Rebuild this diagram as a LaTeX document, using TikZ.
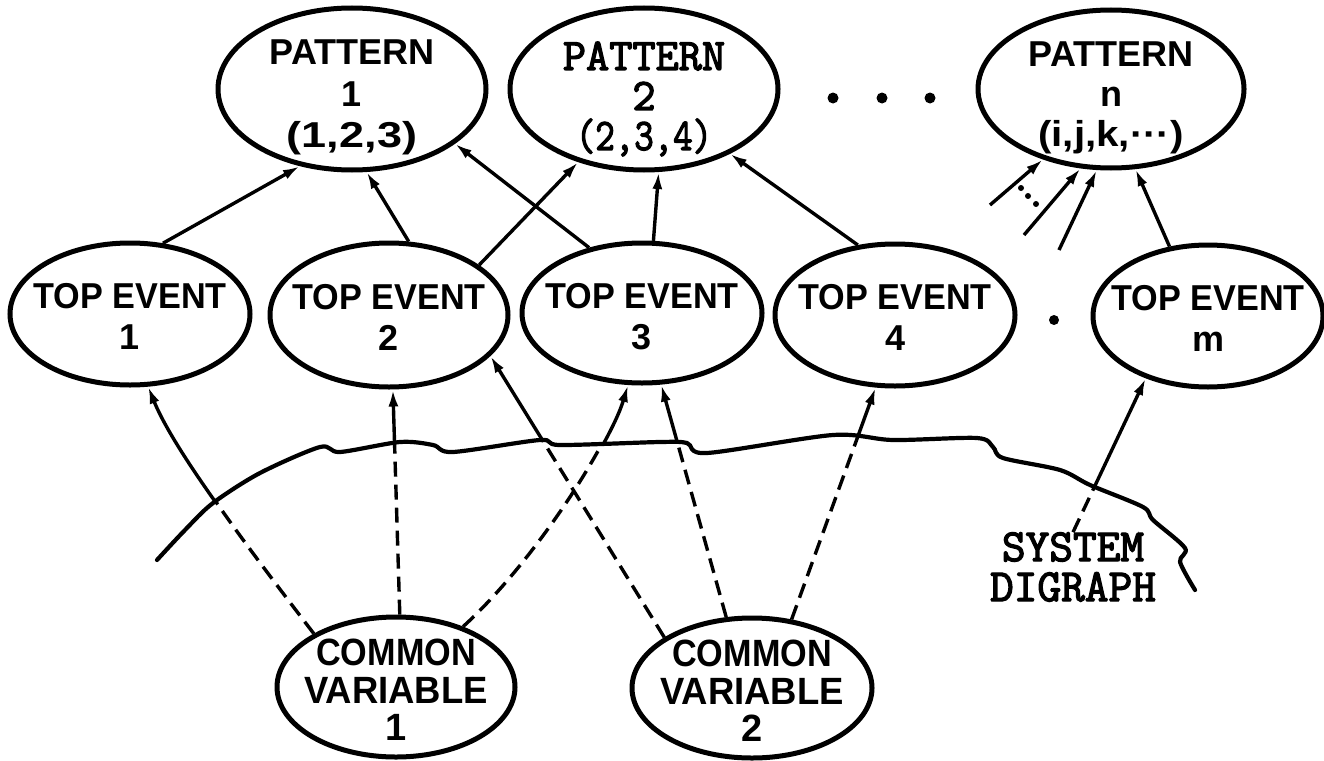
\documentclass[tikz,border=0pt]{standalone}
\usepackage{fontspec}
\setmainfont{Liberation Sans}
\usetikzlibrary{shapes.geometric,arrows.meta}

% faces used for the labels
\newcommand\sansb{\bfseries}
\newcommand\twfont{\ttfamily}
% outlined (heavier) text: fill and stroke the glyphs
\newcommand\hv[1]{\special{pdf:literal direct 2 Tr 1.3 w}#1\special{pdf:literal direct 0 Tr}}

% centred block of lines, fixed baseline distance
\newcommand\stackc[2]{\vbox{#1\lineskiplimit=-100pt\halign{\hfil##\hfil\cr#2\crcr}}}

% links that run from the lower region (common variables) up to the top events
\newcommand\lowlinks{%
  \draw[xl] (cv1.147) .. controls (253,554) and (175,453) .. (te1.-76);
  \draw[xl] (cv1.87) -- (te2.-87);
  \draw[xl] (cv1.42) .. controls (533,563) and (610,445) .. (te3.-101);
  \draw[xl] (cv2.150) -- (te2.-22);
  \draw[xl] (cv2.110) -- (te3.-75);
  \draw[xl] (cv2.60) -- (te4.-105);
  \draw[xl] (sd.north) -- (tem.-135);
}

\begin{document}
\begin{tikzpicture}[x=1pt,y=-1pt,
  oval/.style n args={2}{ellipse,draw,line width=5pt,minimum width=#1,minimum height=#2,inner sep=0pt},
  lab/.style={inner sep=0pt},
  conn/.style={line width=3.4pt,-{Latex[length=17pt,width=10pt]}},
  lowlink/.style={line width=3.4pt,dash pattern=on 15pt off 8pt},
  blob/.style={circle,fill,inner sep=0pt,minimum size=#1},
  wave/.style={line width=4.2pt,line cap=round,line join=round},
]
\useasboundingbox (0,0) rectangle (1324,760);

% pattern ovals
\node[oval={268pt}{162pt},label={[lab,yshift=-8.5pt]center:{\stackc{\sansb\fontsize{36}{41.5}\selectfont}{PATTERN\cr 1\cr \scalebox{1.25}[1]{(1,2,3)}}}}] (p1) at (352,89) {};
\node[oval={268pt}{162pt}] (p2) at (644,89) {};
\node[lab] (p2t) at (644,99) {\stackc{\twfont\fontsize{45}{40}\selectfont}{\hv{PATTERN}\cr \hv{2}\cr \hv{\scalebox{.84}[1]{(2,3,4)}}}};
\node[oval={266pt}{158pt},label={[lab,yshift=-9pt]center:{\stackc{\sansb\fontsize{36}{40}\selectfont}{PATTERN\cr n\cr \scalebox{1.12}[1]{(i,j,k,···)}}}}] (pn) at (1111,89) {};

% dots between the pattern ovals
\node[blob=11pt] (q1) at (833,98) {};
\node[blob=11pt] (q2) at (882,98) {};
\node[blob=11pt] (q3) at (930,98) {};

% top event ovals
\node[oval={240pt}{142pt},label={[lab,yshift=-2pt]center:{\stackc{\sansb\fontsize{36}{41}\selectfont}{\scalebox{.95}[1]{TOP EVENT}\cr 1}}}] (te1) at (130,314) {};
\node[oval={238pt}{144pt},label={[lab,yshift=-2pt]center:{\stackc{\sansb\fontsize{36}{41}\selectfont}{\scalebox{.95}[1]{TOP EVENT}\cr 2}}}] (te2) at (389,315) {};
\node[oval={240pt}{140pt},label={[lab,yshift=-4pt]center:{\stackc{\sansb\fontsize{36}{41}\selectfont}{\scalebox{.95}[1]{TOP EVENT}\cr 3}}}] (te3) at (642,313) {};
\node[oval={240pt}{142pt},label={[lab,yshift=-2pt]center:{\stackc{\sansb\fontsize{36}{41}\selectfont}{\scalebox{.95}[1]{TOP EVENT}\cr 4}}}] (te4) at (895,315) {};
\node[oval={230pt}{142pt},label={[lab,yshift=-2pt]center:{\stackc{\sansb\fontsize{36}{41}\selectfont}{\scalebox{.95}[1]{TOP EVENT}\cr m}}}] (tem) at (1208,316) {};
\node[blob=10pt] (q4) at (1054,320) {};

% common variable ovals
\node[oval={238pt}{140pt},label={[lab,yshift=-3pt]center:{\stackc{\sansb\fontsize{38}{37.5}\selectfont}{\scalebox{.9}[1]{COMMON}\cr \scalebox{.96}[1]{VARIABLE}\cr 1}}}] (cv1) at (396,687) {};
\node[oval={240pt}{140pt},label={[lab,yshift=-3pt]center:{\stackc{\sansb\fontsize{38}{37.5}\selectfont}{\scalebox{.9}[1]{COMMON}\cr \scalebox{.96}[1]{VARIABLE}\cr 2}}}] (cv2) at (752,688) {};

% system digraph caption
\node[lab] (sd) at (1073,567) {\stackc{\twfont\fontsize{46}{40}\selectfont}{\hv{SYSTEM}\cr \hv{DIGRAPH}}};

% top events feeding the patterns
\draw[conn] (te1.65) -- (p1.236);
\draw[conn] (te2.75) -- (p1.280);
\draw[conn] (te3.129) -- (p1.-28);
\draw[conn] (te2.29) -- (p2.228);
\draw[conn] (te3.81) -- (p2.280);
\draw[conn] (te4.118) -- (p2.-37);
\draw[conn] (tem.119) -- (pn.-73);

% further inputs of pattern n
\coordinate (f1) at (990,205);
\coordinate (f2) at (1024,235);
\coordinate (f3) at (1059,250);
\draw[conn] (f1) -- (pn.226);
\draw[conn] (f2) -- (pn.249);
\draw[conn] (f3) -- (pn.260);
\node[blob=6pt] (r1) at (1021,188) {};
\node[blob=6pt] (r2) at (1028,196) {};
\node[blob=6pt] (r3) at (1036,204) {};

% links: solid above the boundary, dashed below it
\begin{scope}
  \clip plot[smooth,tension=.5] coordinates {(157,560) (185,530) (213,503) (260,473) (320,447) (340,452) (400,442) (433,445) (453,452) (540,440) (560,445) (660,442) (687,443) (707,453) (833,435) (893,440) (977,438) (993,447) (1003,458) (1060,470) (1090,485) (1143,507) (1153,520) (1185,548) (1180,562) (1195,590)} -- (1324,590) -- (1324,0) -- (0,0) -- (0,560) -- cycle;
  \tikzset{xl/.style={conn}}
  \lowlinks
\end{scope}
\begin{scope}
  \clip plot[smooth,tension=.5] coordinates {(157,560) (185,530) (213,503) (260,473) (320,447) (340,452) (400,442) (433,445) (453,452) (540,440) (560,445) (660,442) (687,443) (707,453) (833,435) (893,440) (977,438) (993,447) (1003,458) (1060,470) (1090,485) (1143,507) (1153,520) (1185,548) (1180,562) (1195,590)} -- (1324,590) -- (1324,760) -- (0,760) -- (0,560) -- cycle;
  \tikzset{xl/.style={lowlink}}
  \lowlinks
\end{scope}

% system digraph boundary
\draw[wave] plot[smooth,tension=.5] coordinates {(157,560) (185,530) (213,503) (260,473) (320,447) (340,452) (400,442) (433,445) (453,452) (540,440) (560,445) (660,442) (687,443) (707,453) (833,435) (893,440) (977,438) (993,447) (1003,458) (1060,470) (1090,485) (1143,507) (1153,520) (1185,548) (1180,562) (1195,590)};
\end{tikzpicture}
\end{document}
